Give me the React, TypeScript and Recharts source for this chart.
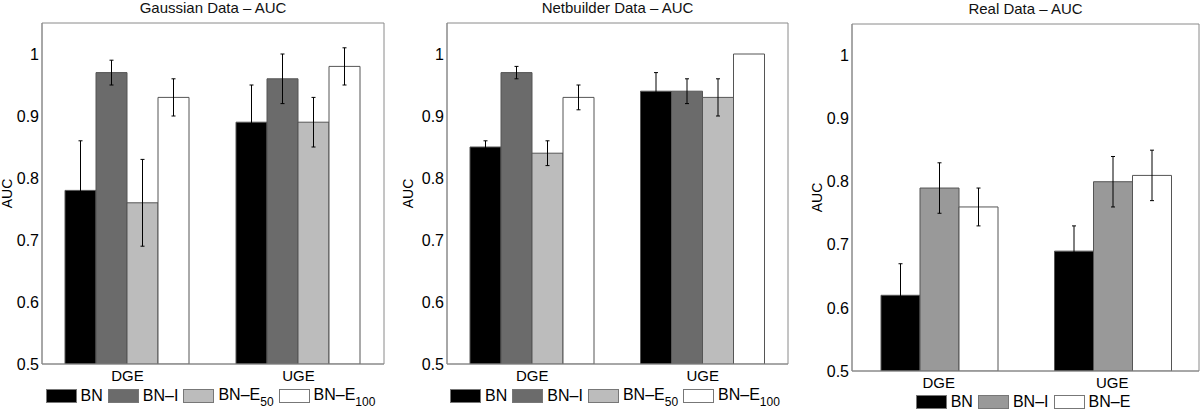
import React from 'react';
import {BarChart, Bar, XAxis, YAxis, ErrorBar, Label, ReferenceArea} from 'recharts';

const categories = ['DGE', 'UGE'];
const yTicks = [0.5, 0.6, 0.7, 0.8, 0.9, 1];

// Gaussian data
const gaussBN = [0.78, 0.89];
const gaussBNErr = [0.08, 0.06];
const gaussBNI = [0.97, 0.96];
const gaussBNIErr = [0.02, 0.04];
const gaussBNE50 = [0.76, 0.89];
const gaussBNE50Err = [0.07, 0.04];
const gaussBNE100 = [0.93, 0.98];
const gaussBNE100Err = [0.03, 0.03];

// Netbuilder data
const netBN = [0.85, 0.94];
const netBNErr = [0.01, 0.03];
const netBNI = [0.97, 0.94];
const netBNIErr = [0.01, 0.02];
const netBNE50 = [0.84, 0.93];
const netBNE50Err = [0.02, 0.03];
const netBNE100 = [0.93, 1.0];
const netBNE100Err = [0.02, 0];

// Real data
const realBN = [0.62, 0.69];
const realBNErr = [0.05, 0.04];
const realBNI = [0.79, 0.8];
const realBNIErr = [0.04, 0.04];
const realBNE = [0.76, 0.81];
const realBNEErr = [0.03, 0.04];

const FONT = '"Liberation Sans", Arial, Helvetica, sans-serif';
const AXIS = '#8a8a8a';

type Series = {key: string; name: string; sub?: string; fill: string; values: number[]; errors: number[]};

const gaussSeries: Series[] = [
    {key: 'bn', name: 'BN', fill: '#000000', values: gaussBN, errors: gaussBNErr},
    {key: 'bni', name: 'BN–I', fill: '#6b6b6b', values: gaussBNI, errors: gaussBNIErr},
    {key: 'bne50', name: 'BN–E', sub: '50', fill: '#bcbcbc', values: gaussBNE50, errors: gaussBNE50Err},
    {key: 'bne100', name: 'BN–E', sub: '100', fill: '#ffffff', values: gaussBNE100, errors: gaussBNE100Err},
];

const netSeries: Series[] = [
    {key: 'bn', name: 'BN', fill: '#000000', values: netBN, errors: netBNErr},
    {key: 'bni', name: 'BN–I', fill: '#6b6b6b', values: netBNI, errors: netBNIErr},
    {key: 'bne50', name: 'BN–E', sub: '50', fill: '#bcbcbc', values: netBNE50, errors: netBNE50Err},
    {key: 'bne100', name: 'BN–E', sub: '100', fill: '#ffffff', values: netBNE100, errors: netBNE100Err},
];

const realSeries: Series[] = [
    {key: 'bn', name: 'BN', fill: '#000000', values: realBN, errors: realBNErr},
    {key: 'bni', name: 'BN–I', fill: '#999999', values: realBNI, errors: realBNIErr},
    {key: 'bne', name: 'BN–E', fill: '#ffffff', values: realBNE, errors: realBNEErr},
];

const makeRows = (series: Series[]) =>
    categories.map((c, i) => {
        const row: Record<string, string | number> = {name: c};
        series.forEach(s => {
            row[s.key] = s.values[i];
            row[s.key + 'Err'] = s.errors[i];
        });
        return row;
    });

interface PanelProps {
    left: number;
    title: string;
    series: Series[];
    top: number;
    bottom: number;
    yWidth: number;
    right: number;
    gap: number;
    labelX: number;
    titleTop: number;
    legendTop: number;
}

const Panel: React.FC<PanelProps> = ({left, title, series, top, bottom, yWidth, right, gap, labelX, titleTop, legendTop}) => {
    const W = 400;
    const H = 409;
    const plotLeft = yWidth;
    const plotW = W - yWidth - right;
    return (
        <div style={{position: 'absolute', left, top: 0, width: W, height: H}}>
            <div style={{position: 'absolute', left: plotLeft, width: plotW, top: titleTop, textAlign: 'center', fontSize: 15, lineHeight: '15px', fontFamily: FONT, color: '#111'}}>
                {title}
            </div>
            <BarChart width={W} height={H} data={makeRows(series)} margin={{top, right, bottom: 0, left: 0}}
                      barGap={0} barCategoryGap={gap}>
                <XAxis dataKey="name" height={H - bottom} tickLine={false} tickSize={6} tickMargin={0} interval={0}
                       axisLine={{stroke: AXIS}} tick={{fill: '#000', fontSize: 15, fontFamily: FONT}}/>
                <YAxis domain={[0.5, 1.05]} ticks={yTicks} allowDataOverflow width={yWidth} tickLine={false}
                       tickSize={3} tickMargin={0} axisLine={{stroke: AXIS}}
                       tick={{fill: '#000', fontSize: 16, fontFamily: FONT}}>
                    <Label value="AUC" angle={-90} position="insideLeft" offset={labelX}
                           style={{textAnchor: 'middle', fontSize: 14, fontFamily: FONT, fill: '#000'}}/>
                </YAxis>
                <ReferenceArea y1={0.5} y2={1.05} fill="none" fillOpacity={0} stroke={AXIS} strokeWidth={1}
                               ifOverflow="visible"/>
                {series.map(s => (
                    <Bar key={s.key} dataKey={s.key} fill={s.fill} stroke="#555" strokeWidth={1} isAnimationActive={false}>
                        <ErrorBar dataKey={s.key + 'Err'} width={2} stroke="#000" strokeWidth={1}/>
                    </Bar>
                ))}
            </BarChart>
            <div style={{position: 'absolute', left: plotLeft, width: plotW, top: legendTop, display: 'flex',
                justifyContent: 'center', alignItems: 'center', fontSize: 16, lineHeight: '16px', fontFamily: FONT}}>
                {series.map(s => (
                    <div key={s.key} style={{display: 'flex', alignItems: 'center'}}>
                        <span style={{display: 'inline-block', width: 31, height: 14, boxSizing: 'border-box',
                            background: s.fill, border: '1px solid #777'}}/>
                        <span style={{marginLeft: 4, marginRight: 5, whiteSpace: 'nowrap'}}>
                            {s.name}
                            {s.sub && <span style={{fontSize: 12, position: 'relative', top: 6}}>{s.sub}</span>}
                        </span>
                    </div>
                ))}
            </div>
        </div>
    );
};

const App: React.FC = () => (
    <div style={{position: 'absolute', left: 0, top: 0, width: 1200, height: 409, background: '#fff', overflow: 'hidden'}}>
        <Panel left={0} title="Gaussian Data – AUC" series={gaussSeries} top={23} bottom={364} yWidth={42}
               right={16} gap={23} labelX={7} titleTop={0} legendTop={387}/>
        <Panel left={400} title="Netbuilder Data – AUC" series={netSeries} top={23} bottom={364} yWidth={47}
               right={12} gap={23} labelX={8} titleTop={0} legendTop={387}/>
        <Panel left={800} title="Real Data – AUC" series={realSeries} top={24} bottom={371} yWidth={52}
               right={1} gap={29} labelX={17} titleTop={1} legendTop={394}/>
    </div>
);

export default App;
